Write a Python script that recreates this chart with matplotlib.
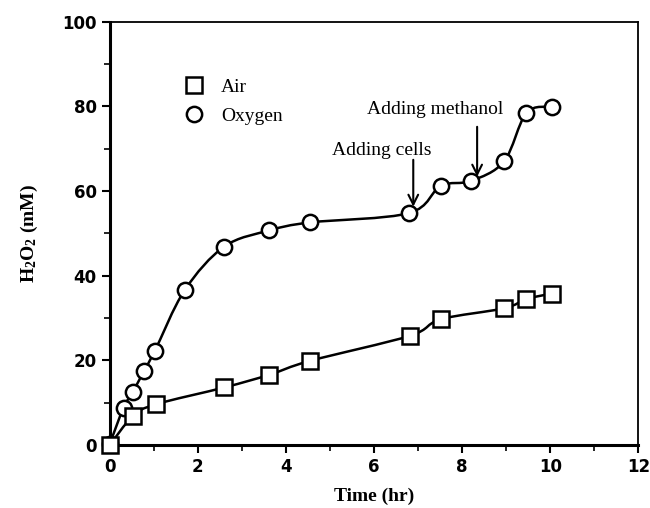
import numpy as np
import matplotlib
matplotlib.use("Agg")
import matplotlib.pyplot as plt
from matplotlib.path import Path
from matplotlib.patches import PathPatch
from matplotlib.lines import Line2D

# ---- data ----
oxygen_t = [0.0, 0.31, 0.52, 0.78, 1.02, 1.70, 2.60, 3.62, 4.55, 6.79, 7.51, 8.20, 8.95, 9.46, 10.04]
oxygen_h2o2 = [0.3, 8.8, 12.5, 17.6, 22.2, 36.6, 46.9, 50.7, 52.6, 54.8, 61.2, 62.4, 67.0, 78.5, 79.9]
air_t = [0.0, 0.52, 1.04, 2.60, 3.62, 4.55, 6.81, 7.51, 8.95, 9.46, 10.04]
air_h2o2 = [0.0, 6.8, 9.6, 13.6, 16.6, 19.9, 25.8, 29.7, 32.3, 34.5, 35.8]
x_ticks = [0, 2, 4, 6, 8, 10, 12]
y_ticks = [0, 20, 40, 60, 80, 100]

plt.rcParams['mathtext.fontset'] = 'custom'
plt.rcParams['mathtext.rm'] = 'Liberation Serif:bold'
plt.rcParams['mathtext.bf'] = 'Liberation Serif:bold'

fig = plt.figure(figsize=(6.5, 5.08), dpi=100)
ax = fig.add_axes([0.169, 0.124, 0.813, 0.833])


def smooth_path(xs, ys):
    pts = np.column_stack([xs, ys]).astype(float)
    n = len(pts)
    verts = [pts[0]]
    codes = [Path.MOVETO]
    for i in range(n - 1):
        p0 = pts[i - 1] if i > 0 else pts[i]
        p1 = pts[i]
        p2 = pts[i + 1]
        p3 = pts[i + 2] if i + 2 < n else pts[i + 1]
        c1 = p1 + (p2 - p0) / 6.0
        c2 = p2 - (p3 - p1) / 6.0
        verts += [c1, c2, p2]
        codes += [Path.CURVE4] * 3
    return Path(verts, codes)


for xs, ys, mk in [(oxygen_t, oxygen_h2o2, 'o'), (air_t, air_h2o2, 's')]:
    ax.add_patch(PathPatch(smooth_path(xs, ys), facecolor='none',
                           edgecolor='black', lw=1.8, zorder=2))
    ax.plot(xs, ys, linestyle='none', marker=mk, markersize=11,
            markerfacecolor='white', markeredgecolor='black',
            markeredgewidth=1.8, zorder=3, clip_on=False)

ax.set_xlim(0, 12)
ax.set_ylim(0, 100)
ax.set_xticks(x_ticks)
ax.set_yticks(y_ticks)
ax.set_xticks(np.arange(1, 12, 2), minor=True)
ax.set_yticks(np.arange(10, 100, 20), minor=True)
ax.tick_params(which='major', direction='out', length=6, width=1.5)
ax.tick_params(which='minor', direction='out', length=4, width=1.2)
for lab in ax.get_xticklabels() + ax.get_yticklabels():
    lab.set_fontfamily('DejaVu Sans')
    lab.set_fontweight('bold')
    lab.set_fontsize(12)

ax.spines['left'].set_linewidth(2.2)
ax.spines['bottom'].set_linewidth(2.2)
ax.spines['top'].set_linewidth(1.3)
ax.spines['right'].set_linewidth(1.3)

ax.set_xlabel('Time (hr)', fontfamily='Liberation Serif', fontweight='bold',
              fontsize=14, labelpad=8)
ax.set_ylabel(r'$\mathrm{H_2O_2}$ (mM)', fontfamily='Liberation Serif',
              fontweight='bold', fontsize=14, labelpad=16)

handles = [
    Line2D([], [], linestyle='none', marker='s', markersize=11,
           markerfacecolor='white', markeredgecolor='black', markeredgewidth=1.8,
           label='Air'),
    Line2D([], [], linestyle='none', marker='o', markersize=11,
           markerfacecolor='white', markeredgecolor='black', markeredgewidth=1.8,
           label='Oxygen'),
]
ax.legend(handles=handles, loc='upper left', bbox_to_anchor=(0.107, 0.885),
          frameon=False, prop={'family': 'Liberation Serif', 'size': 14},
          handletextpad=0.4, labelspacing=0.6, borderaxespad=0)

arrow = dict(arrowstyle='->,head_width=0.35,head_length=0.7', lw=1.5, color='black',
             shrinkA=0, shrinkB=0)
ax.annotate('', xy=(6.89, 56.3), xytext=(6.89, 67.4), arrowprops=arrow)
ax.text(6.18, 69.5, 'Adding cells', ha='center', va='center',
        fontfamily='Liberation Serif', fontsize=14)
ax.annotate('', xy=(8.34, 63.4), xytext=(8.34, 75.2), arrowprops=arrow)
ax.text(7.39, 79.2, 'Adding methanol', ha='center', va='center',
        fontfamily='Liberation Serif', fontsize=14)

fig.savefig('out.png', dpi=100)
